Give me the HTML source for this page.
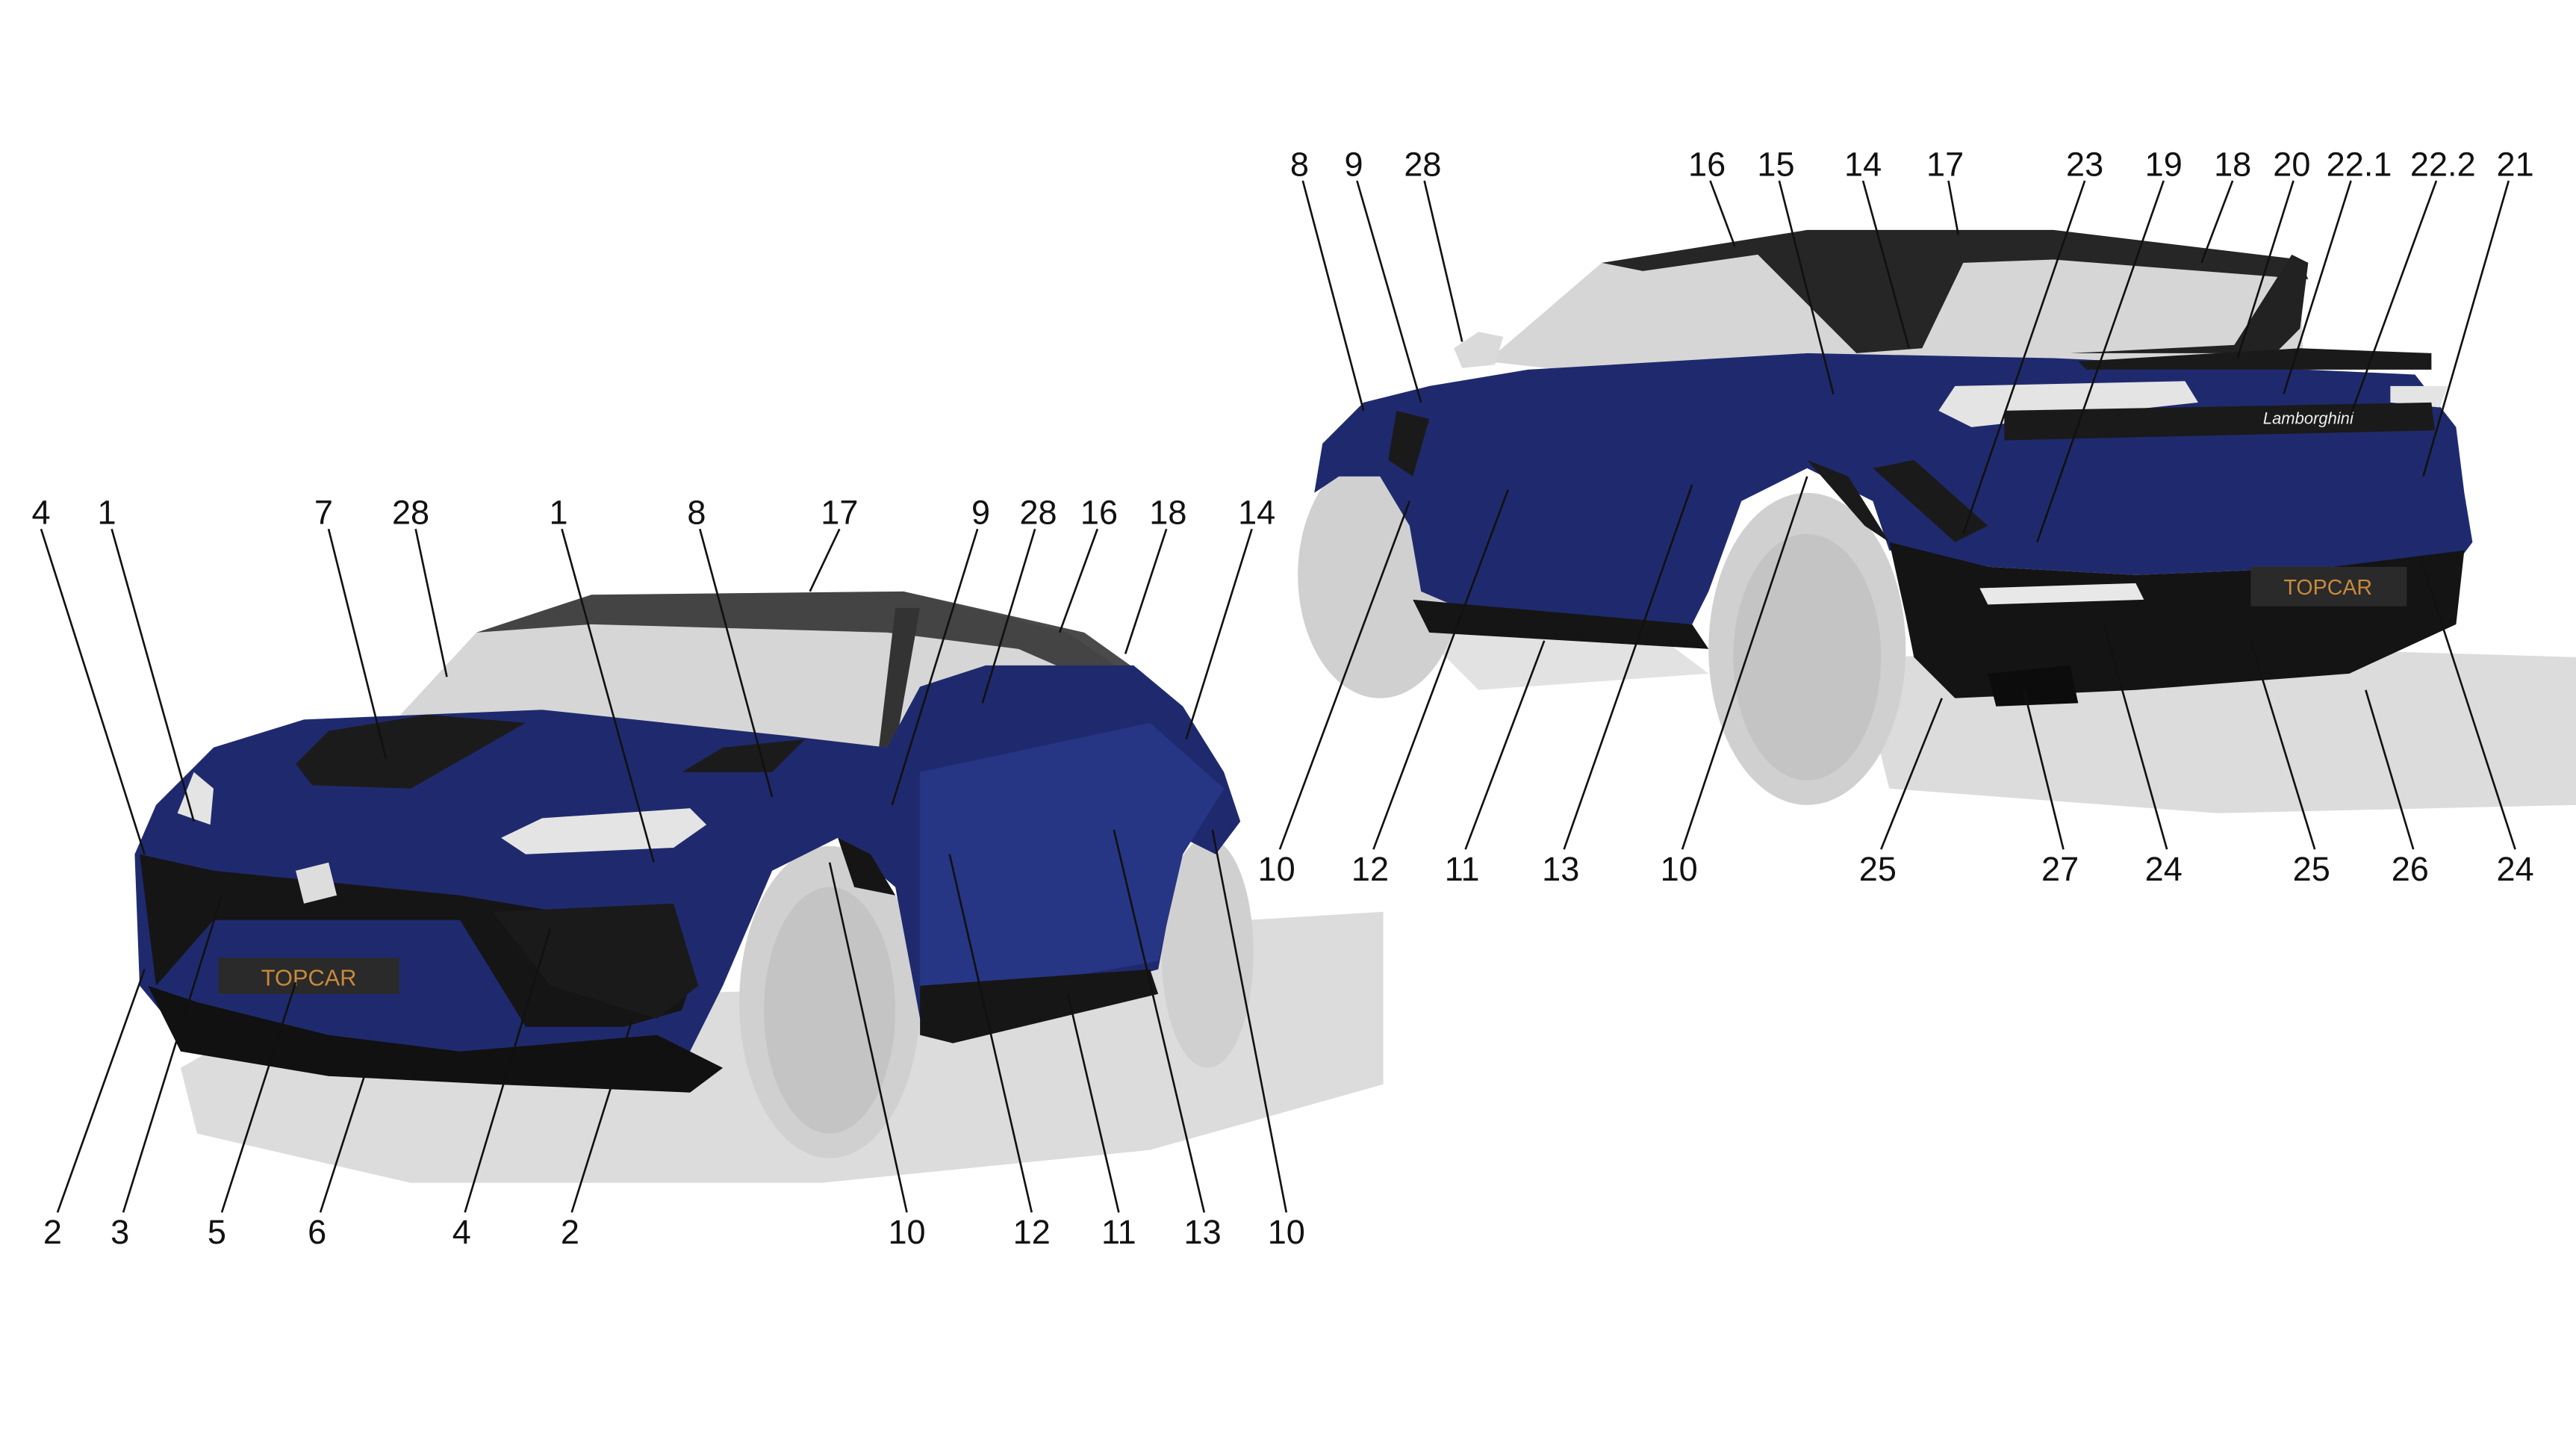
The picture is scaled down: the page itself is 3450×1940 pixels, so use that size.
<!DOCTYPE html>
<html><head><meta charset="utf-8"><style>
html,body{margin:0;padding:0;background:#fff}
svg{display:block}
text{font-family:"Liberation Sans",sans-serif;font-size:20.5px;fill:#111;text-anchor:middle}
</style></head><body>
<svg width="3450" height="1940" viewBox="0 0 1568 882" preserveAspectRatio="none" xmlns="http://www.w3.org/2000/svg">
<rect width="1568" height="882" fill="#fff"/>
<!-- FRONT CAR shadow -->
<path d="M110,650 L180,610 L600,600 L760,560 L842,555 L842,660 L700,700 L500,720 L250,720 L120,690 Z" fill="#dcdcdc"/>
<!-- cabin glass -->
<path d="M230,450 L290,385 L360,362 L550,360 L650,385 L700,420 L720,440 L560,440 L540,455 L400,440 Z" fill="#d6d6d6"/>
<path d="M290,385 L360,362 L550,360 L660,385 L695,410 L700,430 L620,395 L540,385 L360,380 Z" fill="#2a2a2a" opacity="0.85"/>
<path d="M545,370 L560,370 L545,455 L535,455 Z" fill="#333"/>
<path d="M565,430 L580,418 L610,420 L620,440 L580,440 Z" fill="#222"/>
<!-- wheels -->
<ellipse cx="505" cy="610" rx="55" ry="95" fill="#d0d0d0"/>
<ellipse cx="505" cy="615" rx="40" ry="75" fill="#c4c4c4"/>
<ellipse cx="735" cy="580" rx="28" ry="70" fill="#d0d0d0"/>
<!-- body -->
<path d="M82,520 L95,490 L130,455 L185,438 L330,432 L480,448 L540,455 L560,418 L600,405 L690,405 L720,430 L745,470 L755,500 L740,520 L720,510 L705,590 L650,605 L560,620 L545,540 L510,510 L470,530 L440,600 L420,640 L300,650 L200,655 L110,630 L85,600 Z" fill="#1f2a6e"/>
<path d="M560,470 L700,440 L745,480 L720,520 L705,585 L560,610 Z" fill="#273585"/>
<!-- hood carbon -->
<path d="M180,465 L200,445 L260,435 L320,440 L250,480 L190,478 Z" fill="#1b1b1b"/>
<path d="M415,470 L440,455 L490,450 L470,470 Z" fill="#1b1b1b"/>
<!-- headlights -->
<path d="M305,510 L330,498 L420,492 L430,502 L410,516 L320,520 Z" fill="#e4e4e4"/>
<path d="M108,495 L118,470 L130,480 L128,502 Z" fill="#e4e4e4"/>
<!-- grille -->
<path d="M85,520 L130,530 L280,545 L340,555 L420,600 L415,615 L380,625 L320,625 L280,560 L200,560 L130,560 L95,600 Z" fill="#151515"/>
<path d="M300,555 L410,550 L425,600 L400,620 L335,600 Z" fill="#1a1a1a"/>
<path d="M90,600 L110,640 L200,655 L300,660 L420,665 L440,650 L400,630 L280,640 L200,630 L120,610 Z" fill="#111"/>
<rect x="133" y="583" width="110" height="22" fill="#2a2a2a"/>
<text x="188" y="600" style="font-size:14px;fill:#c88a3c">TOPCAR</text>
<path d="M560,600 L700,590 L705,605 L580,635 L560,630 Z" fill="#161616"/>
<path d="M510,510 L530,520 L545,545 L520,540 Z" fill="#151515"/>
<path d="M180,530 L200,525 L205,545 L185,550 Z" fill="#ddd"/>

<!-- REAR CAR shadow -->
<path d="M1130,400 L1400,395 L1568,400 L1568,490 L1350,495 L1150,480 Z" fill="#dcdcdc"/>
<path d="M860,380 L1000,380 L1040,410 L900,420 Z" fill="#e2e2e2"/>
<!-- cabin -->
<path d="M905,220 L975,160 L1100,140 L1250,140 L1400,160 L1402,220 L1260,220 L1100,215 L950,225 Z" fill="#d6d6d6"/>
<path d="M975,160 L1100,140 L1250,140 L1400,158 L1405,170 L1250,158 L1195,160 L1170,212 L1130,215 L1070,155 L1000,165 Z" fill="#262626"/>
<path d="M1260,215 L1360,210 L1395,155 L1405,160 L1400,200 L1385,215 Z" fill="#222"/>
<path d="M885,212 L900,202 L915,205 L910,222 L890,224 Z" fill="#dadada"/>
<!-- wheels -->
<ellipse cx="840" cy="350" rx="50" ry="75" fill="#d0d0d0"/>
<ellipse cx="1100" cy="395" rx="60" ry="95" fill="#d0d0d0"/>
<ellipse cx="1100" cy="400" rx="45" ry="75" fill="#c4c4c4"/>
<!-- body -->
<path d="M800,300 L805,270 L830,245 L870,235 L930,225 L1100,215 L1250,218 L1470,228 L1495,260 L1500,300 L1505,330 L1490,350 L1420,345 L1300,350 L1210,345 L1150,335 L1140,305 L1100,285 L1060,305 L1040,360 L1030,380 L900,375 L865,360 L858,320 L840,290 L815,290 Z" fill="#1f2a6e"/>
<path d="M1150,330 L1210,345 L1300,350 L1420,345 L1500,335 L1495,380 L1430,410 L1300,420 L1190,425 L1165,400 L1160,375 Z" fill="#141414"/>
<rect x="1370" y="345" width="95" height="24" fill="#2a2a2a"/>
<text x="1417" y="362" style="font-size:13px;fill:#c88a3c">TOPCAR</text>
<path d="M1205,358 L1300,355 L1305,365 L1210,368 Z" fill="#e8e8e8"/>
<path d="M1190,235 L1330,232 L1338,245 L1200,260 L1180,250 Z" fill="#e4e4e4"/>
<path d="M1455,235 L1490,235 L1485,248 L1455,245 Z" fill="#e4e4e4"/>
<path d="M1220,250 L1480,245 L1482,262 L1220,268 Z" fill="#1a1a1a"/>
<text x="1405" y="258" style="font-size:10px;fill:#eee;font-style:italic">Lamborghini</text>
<path d="M1265,220 L1400,212 L1480,215 L1480,225 L1270,225 Z" fill="#1a1a1a"/>
<path d="M860,365 L1030,380 L1040,395 L870,385 Z" fill="#151515"/>
<path d="M1140,285 L1165,280 L1210,320 L1190,330 Z" fill="#1a1a1a"/>
<path d="M1100,280 L1125,290 L1150,330 L1135,320 Z" fill="#1a1a1a"/>
<path d="M850,250 L870,255 L860,290 L845,280 Z" fill="#1a1a1a"/>
<path d="M1210,410 L1260,405 L1265,428 L1215,430 Z" fill="#0c0c0c"/>

<!-- LEADER LINES -->
<g stroke="#111" stroke-width="1.2" fill="none">
<line x1="25" y1="322" x2="88" y2="520"/><line x1="68" y1="322" x2="118" y2="500"/>
<line x1="200" y1="322" x2="235" y2="462"/><line x1="253" y1="322" x2="272" y2="412"/>
<line x1="342" y1="322" x2="398" y2="525"/><line x1="426" y1="322" x2="470" y2="485"/>
<line x1="511" y1="322" x2="493" y2="360"/><line x1="595" y1="322" x2="543" y2="490"/>
<line x1="630" y1="322" x2="598" y2="428"/><line x1="668" y1="322" x2="645" y2="385"/>
<line x1="710" y1="322" x2="685" y2="398"/><line x1="762" y1="322" x2="722" y2="450"/>
<line x1="35" y1="738" x2="88" y2="590"/><line x1="75" y1="738" x2="135" y2="545"/>
<line x1="135" y1="738" x2="180" y2="598"/><line x1="195" y1="738" x2="225" y2="645"/>
<line x1="283" y1="738" x2="335" y2="565"/><line x1="348" y1="738" x2="385" y2="620"/>
<line x1="552" y1="738" x2="505" y2="525"/><line x1="628" y1="738" x2="578" y2="520"/>
<line x1="681" y1="738" x2="650" y2="605"/><line x1="733" y1="738" x2="678" y2="505"/>
<line x1="783" y1="738" x2="738" y2="505"/>
<line x1="793" y1="110" x2="830" y2="250"/><line x1="826" y1="110" x2="865" y2="245"/>
<line x1="867" y1="110" x2="890" y2="208"/><line x1="1041" y1="110" x2="1056" y2="150"/>
<line x1="1083" y1="110" x2="1116" y2="240"/><line x1="1134" y1="110" x2="1162" y2="212"/>
<line x1="1186" y1="110" x2="1192" y2="143"/><line x1="1269" y1="110" x2="1195" y2="325"/>
<line x1="1317" y1="110" x2="1240" y2="330"/><line x1="1359" y1="110" x2="1340" y2="160"/>
<line x1="1396" y1="110" x2="1362" y2="218"/><line x1="1431" y1="110" x2="1390" y2="240"/>
<line x1="1483" y1="110" x2="1430" y2="255"/><line x1="1527" y1="110" x2="1475" y2="290"/>
<line x1="779" y1="517" x2="858" y2="305"/><line x1="836" y1="517" x2="918" y2="298"/>
<line x1="892" y1="517" x2="940" y2="390"/><line x1="952" y1="517" x2="1030" y2="295"/>
<line x1="1024" y1="517" x2="1100" y2="290"/><line x1="1145" y1="517" x2="1182" y2="425"/>
<line x1="1256" y1="517" x2="1232" y2="420"/><line x1="1319" y1="517" x2="1280" y2="378"/>
<line x1="1409" y1="517" x2="1370" y2="390"/><line x1="1469" y1="517" x2="1440" y2="420"/>
<line x1="1531" y1="517" x2="1475" y2="345"/>
</g>

<!-- LABELS -->
<g>
<text x="25" y="319">4</text><text x="65" y="319">1</text><text x="197" y="319">7</text><text x="250" y="319">28</text>
<text x="340" y="319">1</text><text x="424" y="319">8</text><text x="511" y="319">17</text><text x="597" y="319">9</text>
<text x="632" y="319">28</text><text x="669" y="319">16</text><text x="711" y="319">18</text><text x="765" y="319">14</text>
<text x="32" y="757">2</text><text x="73" y="757">3</text><text x="132" y="757">5</text><text x="193" y="757">6</text>
<text x="281" y="757">4</text><text x="347" y="757">2</text><text x="552" y="757">10</text><text x="628" y="757">12</text>
<text x="681" y="757">11</text><text x="732" y="757">13</text><text x="783" y="757">10</text>
<text x="791" y="107">8</text><text x="824" y="107">9</text><text x="866" y="107">28</text><text x="1039" y="107">16</text>
<text x="1081" y="107">15</text><text x="1134" y="107">14</text><text x="1184" y="107">17</text><text x="1269" y="107">23</text>
<text x="1317" y="107">19</text><text x="1359" y="107">18</text><text x="1395" y="107">20</text><text x="1436" y="107">22.1</text>
<text x="1487" y="107">22.2</text><text x="1531" y="107">21</text>
<text x="777" y="536">10</text><text x="834" y="536">12</text><text x="890" y="536">11</text><text x="950" y="536">13</text>
<text x="1022" y="536">10</text><text x="1143" y="536">25</text><text x="1254" y="536">27</text><text x="1317" y="536">24</text>
<text x="1407" y="536">25</text><text x="1467" y="536">26</text><text x="1531" y="536">24</text>
</g>
</svg>
</body></html>
